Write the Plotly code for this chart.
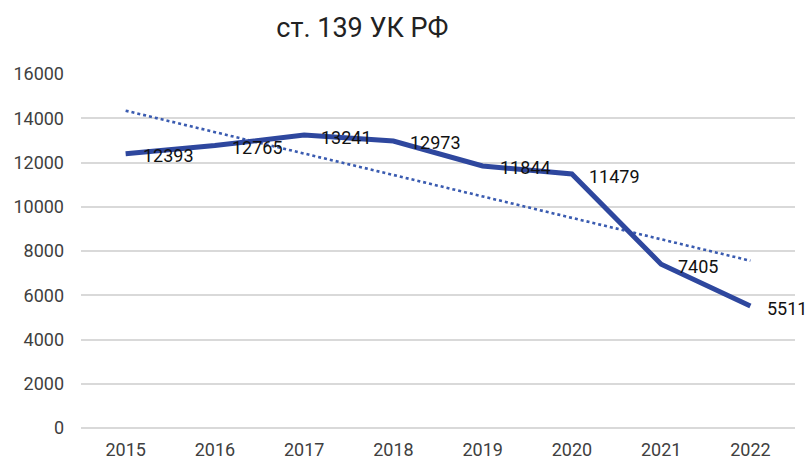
import numpy as np
import plotly.graph_objects as go

years = ["2015", "2016", "2017", "2018", "2019", "2020", "2021", "2022"]
values = [12393, 12765, 13241, 12973, 11844, 11479, 7405, 5511]
title_text = "ст. 139 УК РФ"

# Linear trendline (as in the source spreadsheet chart)
idx = np.arange(1, len(values) + 1)
slope, intercept = np.polyfit(idx, values, 1)
trend = slope * idx + intercept

font_family = "Roboto, Open Sans, sans-serif"

fig = go.Figure()
fig.add_trace(go.Scatter(
    x=years, y=trend, mode="lines",
    line=dict(color="#3A5BB0", width=2.6, dash="dot"),
    hoverinfo="skip", showlegend=False,
))
fig.add_trace(go.Scatter(
    x=years, y=values, mode="lines",
    line=dict(color="#2E479E", width=5),
    showlegend=False,
))

for i, v in enumerate(values):
    fig.add_annotation(
        x=i, y=v, xref="x", yref="y", text=str(v), showarrow=False,
        xanchor="left", yanchor="middle", xshift=15, yshift=-2,
        font=dict(family=font_family, size=18, color="#111111"),
    )

fig.update_layout(
    width=808, height=461,
    margin=dict(l=81, r=13, t=74, b=33, autoexpand=False),
    paper_bgcolor="white", plot_bgcolor="white",
    title=dict(text=title_text, x=0.394, xref="paper", xanchor="center",
               y=0.94, yref="container", yanchor="middle",
               font=dict(family=font_family, size=27, color="#222222")),
    xaxis=dict(type="category", categoryorder="array", categoryarray=years,
               range=[-0.5, len(years) - 0.5], automargin=False,
               showgrid=False, showline=False, zeroline=False,
               ticks="", tickfont=dict(family=font_family, size=18, color="#404040"),
               ticklabelstandoff=9),
    yaxis=dict(range=[0, 16000], tickvals=list(range(0, 16001, 2000)),
               tickformat="d", automargin=False,
               showgrid=True, gridcolor="#D9D9D9", gridwidth=1.5,
               zeroline=True, zerolinecolor="#D9D9D9", zerolinewidth=1.5,
               showline=False, ticks="",
               tickfont=dict(family=font_family, size=18, color="#404040"),
               ticklabelstandoff=16),
)

fig.write_html("out.html", config={"displayModeBar": False},
               post_script="document.body.style.margin='0';")
